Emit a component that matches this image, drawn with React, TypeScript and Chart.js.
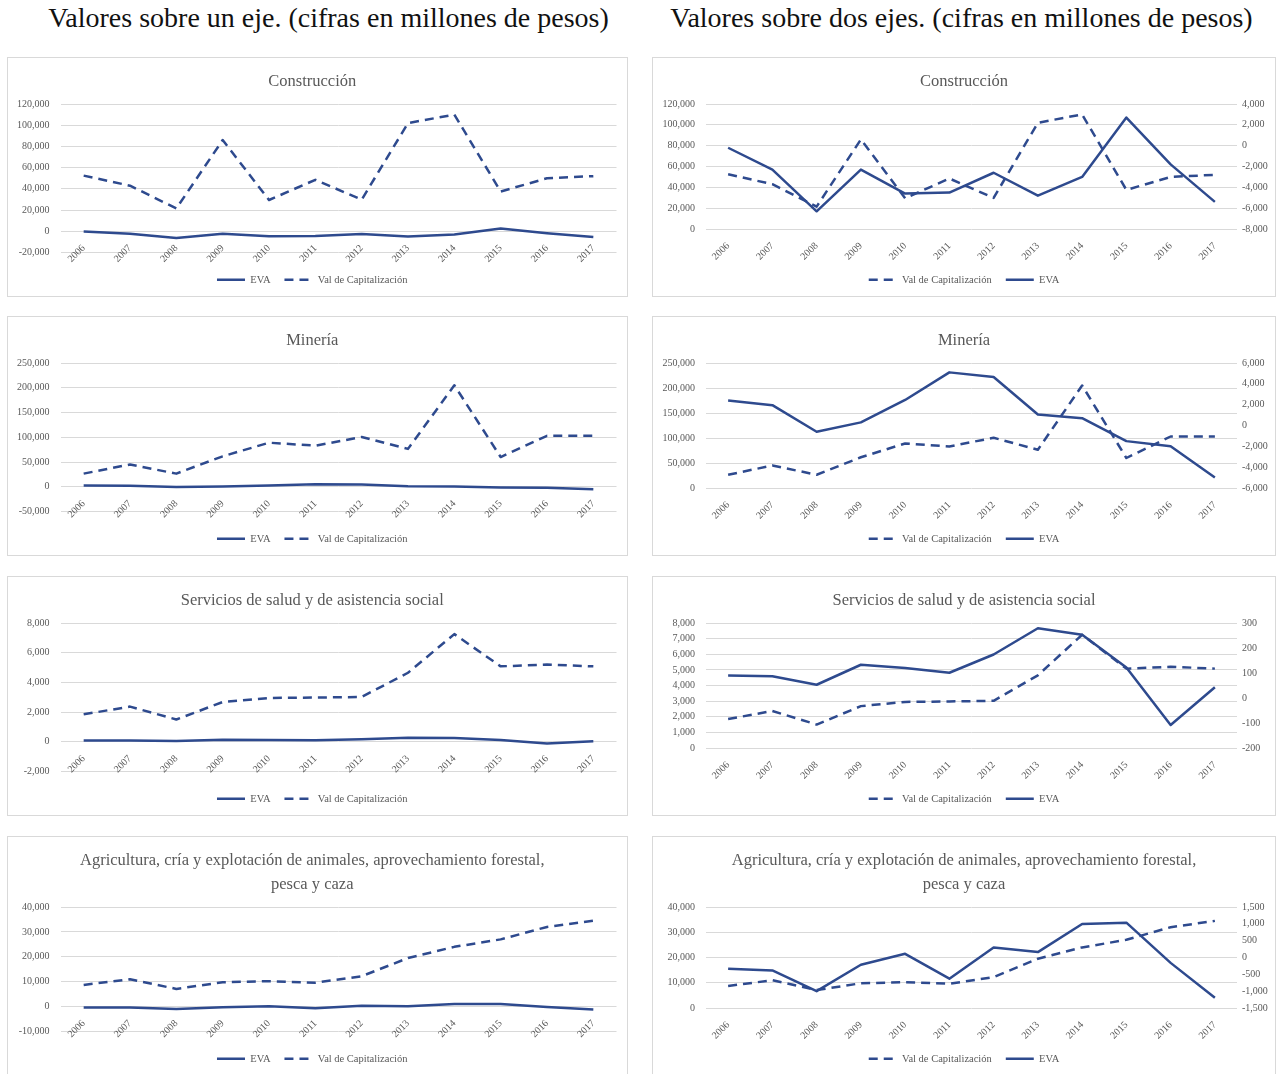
import React, { useEffect, useRef } from 'react';
import { Chart, registerables } from 'chart.js';

Chart.register(...registerables);

const years = ['2006', '2007', '2008', '2009', '2010', '2011', '2012', '2013', '2014', '2015', '2016', '2017'];

const construccionVal = [52500, 43000, 21500, 86000, 29500, 48500, 29800, 102000, 110000, 37500, 50000, 52000];
const construccionEva = [-200, -2300, -6300, -2300, -4600, -4500, -2600, -4800, -3000, 2700, -1800, -5400];

const mineriaVal = [26500, 45000, 26500, 61500, 89000, 83000, 100500, 76500, 205000, 60000, 103000, 103000];
const mineriaEva = [2400, 1950, -600, 300, 2450, 5100, 4650, 1050, 700, -1500, -2000, -5000];

const saludVal = [1850, 2370, 1500, 2680, 2950, 2980, 3020, 4650, 7250, 5080, 5200, 5080];
const saludEva = [90, 87, 53, 133, 120, 101, 174, 279, 253, 122, -108, 43];

const agriVal = [8700, 11000, 7100, 9800, 10200, 9600, 12200, 19500, 24000, 27000, 32000, 34500];
const agriEva = [-335, -385, -1000, -215, 110, -630, 295, 160, 995, 1035, -160, -1195];

// axis ranges [min, max, step]
const construccionOneAxis = [-20000, 120000, 20000];
const construccionLeftAxis = [0, 120000, 20000];
const construccionRightAxis = [-8000, 4000, 2000];
const mineriaOneAxis = [-50000, 250000, 50000];
const mineriaLeftAxis = [0, 250000, 50000];
const mineriaRightAxis = [-6000, 6000, 2000];
const saludOneAxis = [-2000, 8000, 2000];
const saludLeftAxis = [0, 8000, 1000];
const saludRightAxis = [-200, 300, 100];
const agriOneAxis = [-10000, 40000, 10000];
const agriLeftAxis = [0, 40000, 10000];
const agriRightAxis = [-1500, 1500, 500];

const titleConstruccion = 'Construcción';
const titleMineria = 'Minería';
const titleSalud = 'Servicios de salud y de asistencia social';
const titleAgri = ['Agricultura, cría y explotación de animales, aprovechamiento forestal,', 'pesca y caza'];

const labelEva = 'EVA';
const labelVal = 'Val de Capitalización';

const headingLeft = 'Valores sobre un eje. (cifras en millones de pesos)';
const headingRight = 'Valores sobre dos ejes. (cifras en millones de pesos)';

const FONT = "'Liberation Serif', 'Times New Roman', serif";
const LINE = '#2E4A8E';
const GRAY = '#595959';
const GRID = '#D9D9D9';

const fmt = (v: number | string) => Number(v).toLocaleString('en-US');

type PanelCfg = {
  title: string | string[];
  val: number[];
  eva: number[];
  dual: boolean;
  axis: number[];
  axis2?: number[];
};

function buildConfig(cfg: PanelCfg): any {
  const evaDs = {
    label: labelEva,
    data: cfg.eva,
    borderColor: LINE,
    backgroundColor: LINE,
    borderWidth: 2.5,
    pointRadius: 0,
    tension: 0,
    borderJoinStyle: 'round',
    yAxisID: cfg.dual ? 'y1' : 'y',
  };
  const valDs = {
    label: labelVal,
    data: cfg.val,
    borderColor: LINE,
    backgroundColor: LINE,
    borderWidth: 2.5,
    borderDash: [9, 6],
    pointRadius: 0,
    tension: 0,
    borderJoinStyle: 'round',
    yAxisID: 'y',
  };
  const datasets = cfg.dual ? [valDs, evaDs] : [evaDs, valDs];
  const tickFont = { family: FONT, size: 10 };

  const scales: any = {
    x: {
      type: 'category',
      offset: true,
      position: cfg.dual ? 'bottom' : { y: 0 },
      grid: { display: false, drawTicks: false },
      border: { display: false },
      ticks: {
        minRotation: 45,
        maxRotation: 45,
        autoSkip: false,
        padding: 11,
        font: tickFont,
        color: GRAY,
      },
      afterFit: (s: any) => {
        s.height = cfg.dual ? 31.5 : 0;
      },
    },
    y: {
      type: 'linear',
      position: 'left',
      min: cfg.axis[0],
      max: cfg.axis[1],
      ticks: { stepSize: cfg.axis[2], padding: 11, font: tickFont, color: GRAY, callback: (v: any) => fmt(v) },
      grid: { color: GRID, lineWidth: 1, drawTicks: false },
      border: { display: false },
      afterFit: (s: any) => {
        s.width = cfg.dual ? 53 : 52.5;
      },
    },
  };
  if (cfg.dual && cfg.axis2) {
    scales.y1 = {
      type: 'linear',
      position: 'right',
      min: cfg.axis2[0],
      max: cfg.axis2[1],
      ticks: { stepSize: cfg.axis2[2], padding: 5, font: tickFont, color: GRAY, callback: (v: any) => fmt(v) },
      grid: { display: false, drawTicks: false },
      border: { display: false },
      afterFit: (s: any) => {
        s.width = 38;
      },
    };
  }

  const baseGen = Chart.defaults.plugins.legend.labels.generateLabels;

  return {
    type: 'line',
    data: { labels: years, datasets },
    options: {
      responsive: false,
      maintainAspectRatio: false,
      animation: false,
      devicePixelRatio: 1,
      layout: { padding: { left: 0, right: cfg.dual ? 0 : 10.5, top: 0, bottom: 1 } },
      plugins: {
        title: {
          display: true,
          text: cfg.title,
          color: GRAY,
          font: { family: FONT, size: 16.5, weight: 'normal', lineHeight: '24px' },
          padding: { top: 12, bottom: 10 },
        },
        legend: {
          display: true,
          position: 'bottom',
          title: {
            display: !cfg.dual,
            text: '',
            padding: 0,
            font: { size: 8, lineHeight: '8px' },
          },
          labels: {
            usePointStyle: true,
            pointStyle: 'line',
            pointStyleWidth: 28,
            padding: 14,
            color: GRAY,
            font: { family: FONT, size: 10.5 },
            generateLabels: (chart: any) =>
              baseGen(chart).map((item: any) => {
                const ds = chart.data.datasets[item.datasetIndex];
                return {
                  ...item,
                  lineDash: ds.borderDash || [],
                  lineWidth: 2.5,
                  strokeStyle: LINE,
                  fillStyle: LINE,
                  pointStyle: 'line',
                };
              }),
          },
        },
        tooltip: { enabled: false },
      },
      scales,
    },
  };
}

function Panel({ cfg, left, top, width, height }: { cfg: PanelCfg; left: number; top: number; width: number; height: number }) {
  const ref = useRef<HTMLCanvasElement | null>(null);
  const cw = width - 2;
  const ch = height - 2;
  useEffect(() => {
    if (!ref.current) return;
    const chart = new Chart(ref.current, buildConfig(cfg));
    return () => chart.destroy();
  }, []);
  return (
    <div
      style={{
        position: 'absolute',
        left,
        top,
        width,
        height,
        boxSizing: 'border-box',
        border: '1px solid #D9D9D9',
        background: '#fff',
      }}
    >
      <canvas ref={ref} width={cw} height={ch} style={{ display: 'block', width: cw, height: ch }} />
    </div>
  );
}

const leftPanels: PanelCfg[] = [
  { title: titleConstruccion, val: construccionVal, eva: construccionEva, dual: false, axis: construccionOneAxis },
  { title: titleMineria, val: mineriaVal, eva: mineriaEva, dual: false, axis: mineriaOneAxis },
  { title: titleSalud, val: saludVal, eva: saludEva, dual: false, axis: saludOneAxis },
  { title: titleAgri, val: agriVal, eva: agriEva, dual: false, axis: agriOneAxis },
];

const rightPanels: PanelCfg[] = [
  { title: titleConstruccion, val: construccionVal, eva: construccionEva, dual: true, axis: construccionLeftAxis, axis2: construccionRightAxis },
  { title: titleMineria, val: mineriaVal, eva: mineriaEva, dual: true, axis: mineriaLeftAxis, axis2: mineriaRightAxis },
  { title: titleSalud, val: saludVal, eva: saludEva, dual: true, axis: saludLeftAxis, axis2: saludRightAxis },
  { title: titleAgri, val: agriVal, eva: agriEva, dual: true, axis: agriLeftAxis, axis2: agriRightAxis },
];

const rowTops = [57, 316, 576, 836];

export default function App() {
  return (
    <div
      style={{
        position: 'absolute',
        left: 0,
        top: 0,
        width: 1278,
        height: 1074,
        overflow: 'hidden',
        background: '#fff',
        fontFamily: FONT,
      }}
    >
      <div
        style={{
          position: 'absolute',
          left: 0,
          top: 0,
          width: 657,
          lineHeight: '36px',
          fontSize: 28,
          textAlign: 'center',
          whiteSpace: 'nowrap',
          color: '#111',
        }}
      >
        {headingLeft}
      </div>
      <div
        style={{
          position: 'absolute',
          left: 645,
          top: 0,
          width: 633,
          lineHeight: '36px',
          fontSize: 28,
          textAlign: 'center',
          whiteSpace: 'nowrap',
          color: '#111',
        }}
      >
        {headingRight}
      </div>
      {leftPanels.map((p, i) => (
        <Panel key={'l' + i} cfg={p} left={7} top={rowTops[i]} width={621} height={240} />
      ))}
      {rightPanels.map((p, i) => (
        <Panel key={'r' + i} cfg={p} left={652} top={rowTops[i]} width={624} height={240} />
      ))}
    </div>
  );
}
